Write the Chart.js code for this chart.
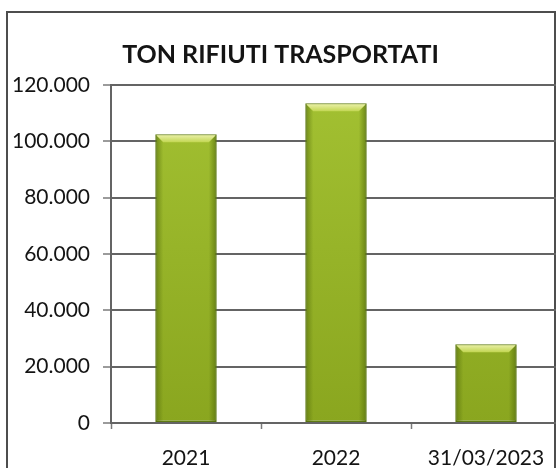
<!DOCTYPE html>
<html lang="it">
<head>
<meta charset="utf-8">
<title>TON RIFIUTI TRASPORTATI</title>
<script src="https://cdn.jsdelivr.net/npm/chart.js@4/dist/chart.umd.min.js"></script>
<style>
  html, body { margin: 0; padding: 0; background: #ffffff; overflow: hidden; }
  #wrap { position: absolute; left: 0; top: 0; width: 570px; height: 468px; }
</style>
</head>
<body>
<div id="wrap"><canvas id="chart" width="570" height="468"></canvas></div>
<script>
// Tonnellate di rifiuti trasportati per periodo
const categories = ['2021', '2022', '31/03/2023'];
const tonnellate = [102500, 113500, 28000];
const yTicks = [0, 20000, 40000, 60000, 80000, 100000, 120000];

const FONT = 'Lato, "DejaVu Sans", sans-serif';

// formato italiano con punto come separatore delle migliaia
function fmtIt(v) {
  return String(v).replace(/\B(?=(\d{3})+(?!\d))/g, '.');
}

// cornice esterna del grafico
const framePlugin = {
  id: 'frame',
  beforeDraw(chart) {
    const ctx = chart.ctx;
    ctx.save();
    ctx.fillStyle = '#ffffff';
    ctx.fillRect(0, 0, chart.width, chart.height);
    ctx.strokeStyle = '#4d4d4d';
    ctx.lineWidth = 2;
    ctx.strokeRect(7, 12, 548, 520);
    ctx.restore();
  }
};

// smussatura delle barre: bordo superiore chiaro e lati in ombra
const bevelPlugin = {
  id: 'bevel',
  afterDatasetsDraw(chart) {
    const ctx = chart.ctx;
    const meta = chart.getDatasetMeta(0);
    meta.data.forEach((bar) => {
      const p = bar.getProps(['x', 'y', 'width', 'base'], true);
      const l = p.x - p.width / 2 + 1, r = p.x + p.width / 2 - 1;
      const t = p.y + 1, b = p.base;
      const bv = 7;
      ctx.save();
      // lato sinistro
      let g = ctx.createLinearGradient(l, 0, l + bv, 0);
      g.addColorStop(0, 'rgba(80,105,10,0.55)');
      g.addColorStop(1, 'rgba(80,105,10,0)');
      ctx.fillStyle = g;
      ctx.beginPath();
      ctx.moveTo(l, t); ctx.lineTo(l + bv, t + bv); ctx.lineTo(l + bv, b); ctx.lineTo(l, b);
      ctx.closePath(); ctx.fill();
      // lato destro
      g = ctx.createLinearGradient(r, 0, r - bv, 0);
      g.addColorStop(0, 'rgba(80,105,10,0.6)');
      g.addColorStop(1, 'rgba(80,105,10,0)');
      ctx.fillStyle = g;
      ctx.beginPath();
      ctx.moveTo(r, t); ctx.lineTo(r - bv, t + bv); ctx.lineTo(r - bv, b); ctx.lineTo(r, b);
      ctx.closePath(); ctx.fill();
      // bordo superiore
      g = ctx.createLinearGradient(0, t, 0, t + bv);
      g.addColorStop(0, '#e8efa4');
      g.addColorStop(1, '#c2d652');
      ctx.fillStyle = g;
      ctx.beginPath();
      ctx.moveTo(l, t); ctx.lineTo(r, t); ctx.lineTo(r - bv, t + bv); ctx.lineTo(l + bv, t + bv);
      ctx.closePath(); ctx.fill();
      ctx.restore();
    });
  }
};

new Chart(document.getElementById('chart'), {
  type: 'bar',
  data: {
    labels: categories,
    datasets: [{
      data: tonnellate,
      backgroundColor(c) {
        const area = c.chart.chartArea;
        if (!area) return '#97b42a';
        const g = c.chart.ctx.createLinearGradient(0, area.top, 0, area.bottom);
        g.addColorStop(0, '#a3c132');
        g.addColorStop(1, '#8aa61f');
        return g;
      },
      borderColor: '#5f7b12',
      borderWidth: 1.5,
      borderSkipped: false,
      barPercentage: 1,
      categoryPercentage: 0.41
    }]
  },
  options: {
    responsive: false,
    animation: false,
    events: [],
    layout: { padding: { left: 0, right: 9, top: 0, bottom: 0 } },
    plugins: {
      legend: { display: false },
      tooltip: { enabled: false },
      title: {
        display: true,
        text: 'TON RIFIUTI TRASPORTATI',
        color: '#141414',
        font: { family: FONT, size: 25, weight: 'bold' },
        padding: { top: 40, bottom: 15 }
      }
    },
    scales: {
      x: {
        offset: true,
        grid: {
          display: true,
          offset: true,
          drawOnChartArea: false,
          drawTicks: true,
          tickLength: 6,
          tickColor: '#7a7a7a',
          tickWidth: 1.5
        },
        border: { display: true, color: '#646464', width: 2 },
        ticks: {
          color: '#141414',
          font: { family: FONT, size: 21 },
          padding: 17,
          maxRotation: 0,
          autoSkip: false
        },
        afterFit(scale) { scale.height = 45; }
      },
      y: {
        min: 0,
        max: 120000,
        afterBuildTicks(scale) {
          scale.ticks = yTicks.map(v => ({ value: v }));
        },
        grid: {
          color: '#646464',
          lineWidth: 2,
          drawTicks: true,
          tickLength: 8,
          tickColor: '#7a7a7a',
          tickWidth: 1.5
        },
        border: { display: true, color: '#646464', width: 2 },
        ticks: {
          color: '#141414',
          font: { family: FONT, size: 21 },
          padding: 13,
          callback: (v) => fmtIt(v)
        },
        afterFit(scale) { scale.width = 111; }
      }
    }
  },
  plugins: [framePlugin, bevelPlugin]
});
</script>
</body>
</html>
